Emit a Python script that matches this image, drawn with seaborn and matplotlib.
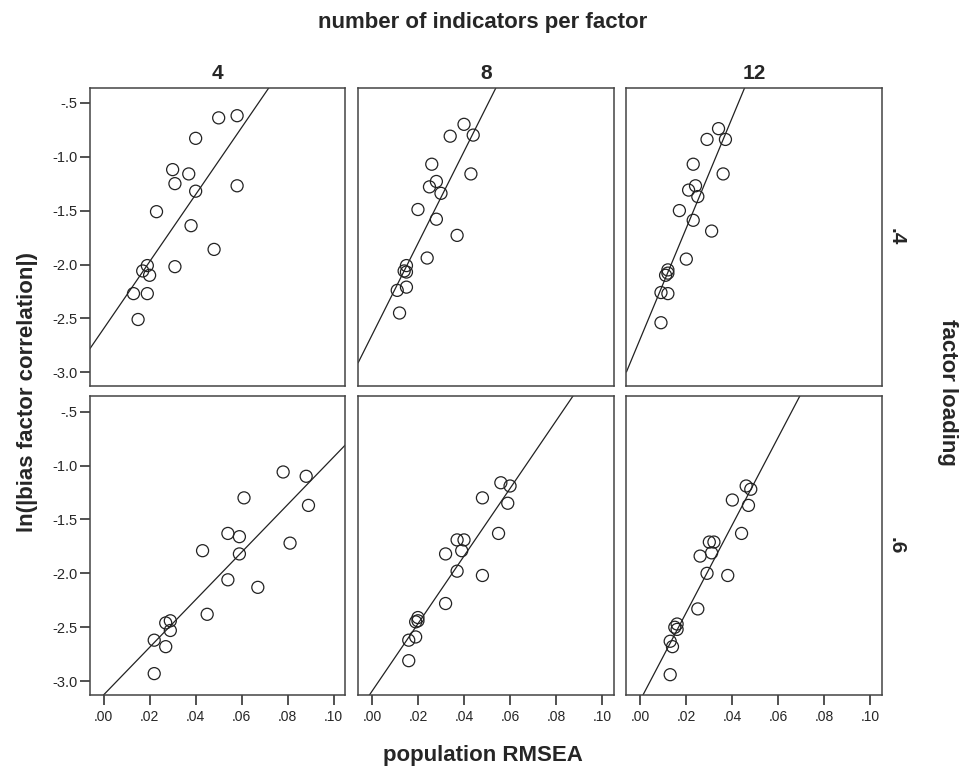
import seaborn as sns
import matplotlib.pyplot as plt
import pandas as pd

sns.set_style("ticks")
plt.rcParams['font.family'] = ['Liberation Sans', 'DejaVu Sans']

# panel (indicators per factor, factor loading) -> population RMSEA / ln(|bias|)
rmsea_4_04 = [0.050, 0.058, 0.040, 0.030, 0.037, 0.031, 0.040, 0.058, 0.023,
              0.038, 0.048, 0.019, 0.017, 0.020, 0.031, 0.013, 0.019, 0.015]
lnbias_4_04 = [-0.64, -0.62, -0.83, -1.12, -1.16, -1.25, -1.32, -1.27, -1.51,
               -1.64, -1.86, -2.01, -2.06, -2.10, -2.02, -2.27, -2.27, -2.51]
rmsea_8_04 = [0.040, 0.044, 0.034, 0.026, 0.043, 0.028, 0.025, 0.030, 0.020,
              0.028, 0.037, 0.024, 0.015, 0.014, 0.015, 0.015, 0.011, 0.012]
lnbias_8_04 = [-0.70, -0.80, -0.81, -1.07, -1.16, -1.23, -1.28, -1.34, -1.49,
               -1.58, -1.73, -1.94, -2.01, -2.06, -2.07, -2.21, -2.24, -2.45]
rmsea_12_04 = [0.034, 0.029, 0.037, 0.023, 0.036, 0.024, 0.021, 0.025, 0.017,
               0.023, 0.031, 0.020, 0.012, 0.012, 0.011, 0.009, 0.012, 0.009]
lnbias_12_04 = [-0.74, -0.84, -0.84, -1.07, -1.16, -1.27, -1.31, -1.37, -1.50,
                -1.59, -1.69, -1.95, -2.05, -2.08, -2.10, -2.26, -2.27, -2.54]
rmsea_4_06 = [0.078, 0.088, 0.061, 0.089, 0.054, 0.059, 0.043, 0.081, 0.059,
              0.054, 0.067, 0.045, 0.027, 0.029, 0.029, 0.022, 0.027, 0.022]
lnbias_4_06 = [-1.06, -1.10, -1.30, -1.37, -1.63, -1.66, -1.79, -1.72, -1.82,
               -2.06, -2.13, -2.38, -2.46, -2.44, -2.53, -2.62, -2.68, -2.93]
rmsea_8_06 = [0.056, 0.060, 0.048, 0.059, 0.055, 0.037, 0.040, 0.039, 0.032,
              0.037, 0.048, 0.032, 0.020, 0.019, 0.019, 0.016, 0.016, 0.020]
lnbias_8_06 = [-1.16, -1.19, -1.30, -1.35, -1.63, -1.69, -1.69, -1.79, -1.82,
               -1.98, -2.02, -2.28, -2.41, -2.45, -2.59, -2.62, -2.81, -2.44]
rmsea_12_06 = [0.046, 0.048, 0.040, 0.047, 0.044, 0.030, 0.032, 0.031, 0.026,
               0.029, 0.038, 0.025, 0.016, 0.015, 0.016, 0.013, 0.014, 0.013]
lnbias_12_06 = [-1.19, -1.22, -1.32, -1.37, -1.63, -1.71, -1.71, -1.81, -1.84,
                -2.00, -2.02, -2.33, -2.47, -2.50, -2.52, -2.63, -2.68, -2.94]

indicators = ['4', '8', '12']
loadings = ['.4', '.6']
xticks = [0.0, 0.02, 0.04, 0.06, 0.08, 0.10]
xticklabels = ['.00', '.02', '.04', '.06', '.08', '.10']
yticks = [-3.0, -2.5, -2.0, -1.5, -1.0, -0.5]
yticklabels = ['-3.0', '-2.5', '-2.0', '-1.5', '-1.0', '-.5']

panels = {
    ('4', '.4'): (rmsea_4_04, lnbias_4_04),
    ('8', '.4'): (rmsea_8_04, lnbias_8_04),
    ('12', '.4'): (rmsea_12_04, lnbias_12_04),
    ('4', '.6'): (rmsea_4_06, lnbias_4_06),
    ('8', '.6'): (rmsea_8_06, lnbias_8_06),
    ('12', '.6'): (rmsea_12_06, lnbias_12_06),
}
rows = []
for (ind, load), (xs, ys) in panels.items():
    for x, y in zip(xs, ys):
        rows.append({'ind': ind, 'load': load, 'rmsea': x, 'lnbias': y})
df = pd.DataFrame(rows)

g = sns.FacetGrid(df, col='ind', row='load', col_order=indicators,
                  row_order=loadings, margin_titles=True, despine=False)
g.figure.set_size_inches(9.65, 7.69)
g.set(xlim=(-0.006, 0.105), ylim=(-3.13, -0.36))
g.map_dataframe(sns.regplot, x='rmsea', y='lnbias', ci=None, color='black',
                truncate=False,
                scatter_kws={'facecolors': 'none', 'edgecolors': '#222222',
                             's': 75, 'linewidths': 0.9, 'alpha': 1},
                line_kws={'color': '#222222', 'lw': 0.9})

g.set_titles(col_template='{col_name}', row_template='{row_name}',
             size=15, fontweight='bold')
g.set_axis_labels('', '')
for i, row in enumerate(g.axes):
    for j, ax in enumerate(row):
        ax.set_xticks(xticks)
        ax.set_xticklabels(xticklabels)
        ax.set_yticks(yticks)
        ax.set_yticklabels(yticklabels)
        ax.tick_params(length=7.5, width=1.2, color='#333333')
        ax.tick_params(axis='y', labelsize=10.5, pad=1.5)
        ax.tick_params(axis='x', labelsize=10, pad=3)
        if j > 0:
            ax.tick_params(left=False, labelleft=False)
        if i == 0:
            ax.tick_params(bottom=False, labelbottom=False)
        for s in ax.spines.values():
            s.set_color('#444444')
            s.set_linewidth(1.1)

fig = g.figure
fig.subplots_adjust(left=0.093, right=0.914, top=0.886, bottom=0.096,
                    wspace=0.05, hspace=0.034)
fig.text(0.5, 0.971, 'number of indicators per factor', ha='center',
         va='center', fontsize=16, fontweight='bold')
fig.text(0.5, 0.018, 'population RMSEA', ha='center', va='center',
         fontsize=16, fontweight='bold')
fig.text(0.028, 0.49, 'ln(|bias factor correlation|)', ha='center',
         va='center', rotation=90, fontsize=16, fontweight='bold')
fig.text(0.982, 0.49, 'factor loading', ha='center', va='center',
         rotation=270, fontsize=16, fontweight='bold')

fig.savefig('out.png', dpi=100)
